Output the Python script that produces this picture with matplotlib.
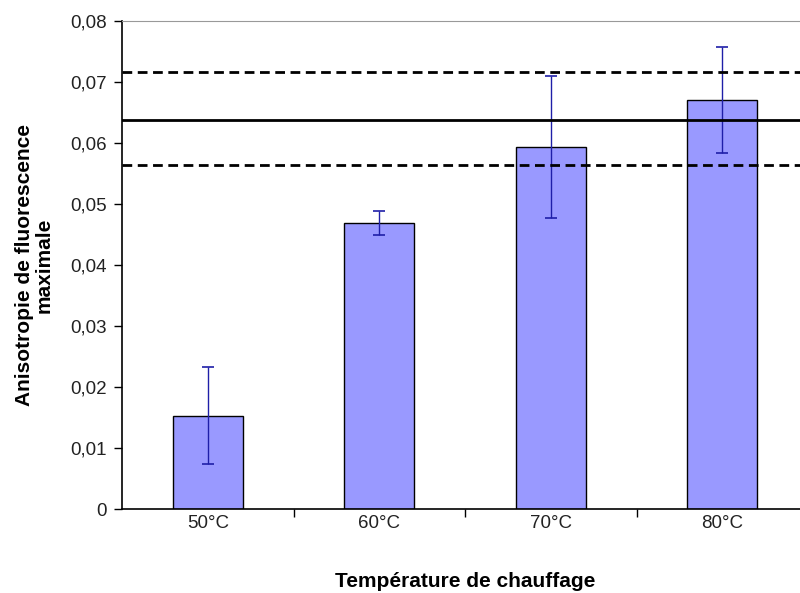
import numpy as np
import matplotlib
matplotlib.use("Agg")
import matplotlib.pyplot as plt
from matplotlib.ticker import FuncFormatter

# Data
categories = ["50°C", "60°C", "70°C", "80°C"]
anisotropy = [0.0153, 0.0469, 0.0593, 0.0671]
err_up = [0.0080, 0.0020, 0.0117, 0.0087]
err_down = [0.0079, 0.0020, 0.0116, 0.0088]
ref_mean = 0.0638
ref_high = 0.0717
ref_low = 0.0564
yticks = [0, 0.01, 0.02, 0.03, 0.04, 0.05, 0.06, 0.07, 0.08]

plt.rcParams['font.family'] = ['Liberation Sans', 'DejaVu Sans']

fig = plt.figure(figsize=(8, 5.93), dpi=100)
ax = fig.add_axes([122/800, 1-509/593, 686/800, 488/593])

x = np.arange(len(categories))
ax.bar(x, anisotropy, width=0.41, color='#9999FF', edgecolor='black', linewidth=1.0, zorder=2)
ax.errorbar(x, anisotropy, yerr=[err_down, err_up], fmt='none', ecolor='#1f1fa8',
            elinewidth=1.0, capsize=4.5, capthick=1.2, zorder=3)

# mean and +/- band lines
ax.axhline(ref_mean, color='black', linewidth=2, zorder=4)
ax.axhline(ref_high, color='black', linewidth=2, linestyle=(0, (3.5, 2)), zorder=4)
ax.axhline(ref_low, color='black', linewidth=2, linestyle=(0, (3.5, 2)), zorder=4)

ax.set_xlim(-0.5, len(categories) - 0.5)
ax.set_ylim(0, 0.08)
ax.set_yticks(yticks)
ax.yaxis.set_major_formatter(FuncFormatter(lambda v, p: "0" if v == 0 else ("%.2f" % v).replace('.', ',')))

# category ticks between bars, labels at centers
ax.set_xticks(np.arange(0.5, len(categories) - 0.5, 1.0))
ax.set_xticklabels([])
ax.set_xticks(x, minor=True)
ax.set_xticklabels(categories, minor=True)
ax.tick_params(axis='x', which='minor', length=0, pad=4, labelsize=13.5, colors='#222222')
ax.tick_params(axis='x', which='major', length=6, width=1, direction='out')
ax.tick_params(axis='y', length=6, width=1, direction='out', labelsize=13.5, pad=5, colors='black')
for lab in ax.get_yticklabels():
    lab.set_color('#222222')

ax.spines['top'].set_color('#999999')
ax.spines['right'].set_visible(False)
ax.spines['left'].set_linewidth(1.2)
ax.spines['bottom'].set_linewidth(1.2)

ax.set_xlabel("Température de chauffage", fontsize=15, fontweight='bold', labelpad=29)
ax.set_ylabel("Anisotropie de fluorescence\nmaximale", fontsize=15, fontweight='bold',
              labelpad=12, linespacing=1.05)

fig.savefig("out.png", dpi=100)
